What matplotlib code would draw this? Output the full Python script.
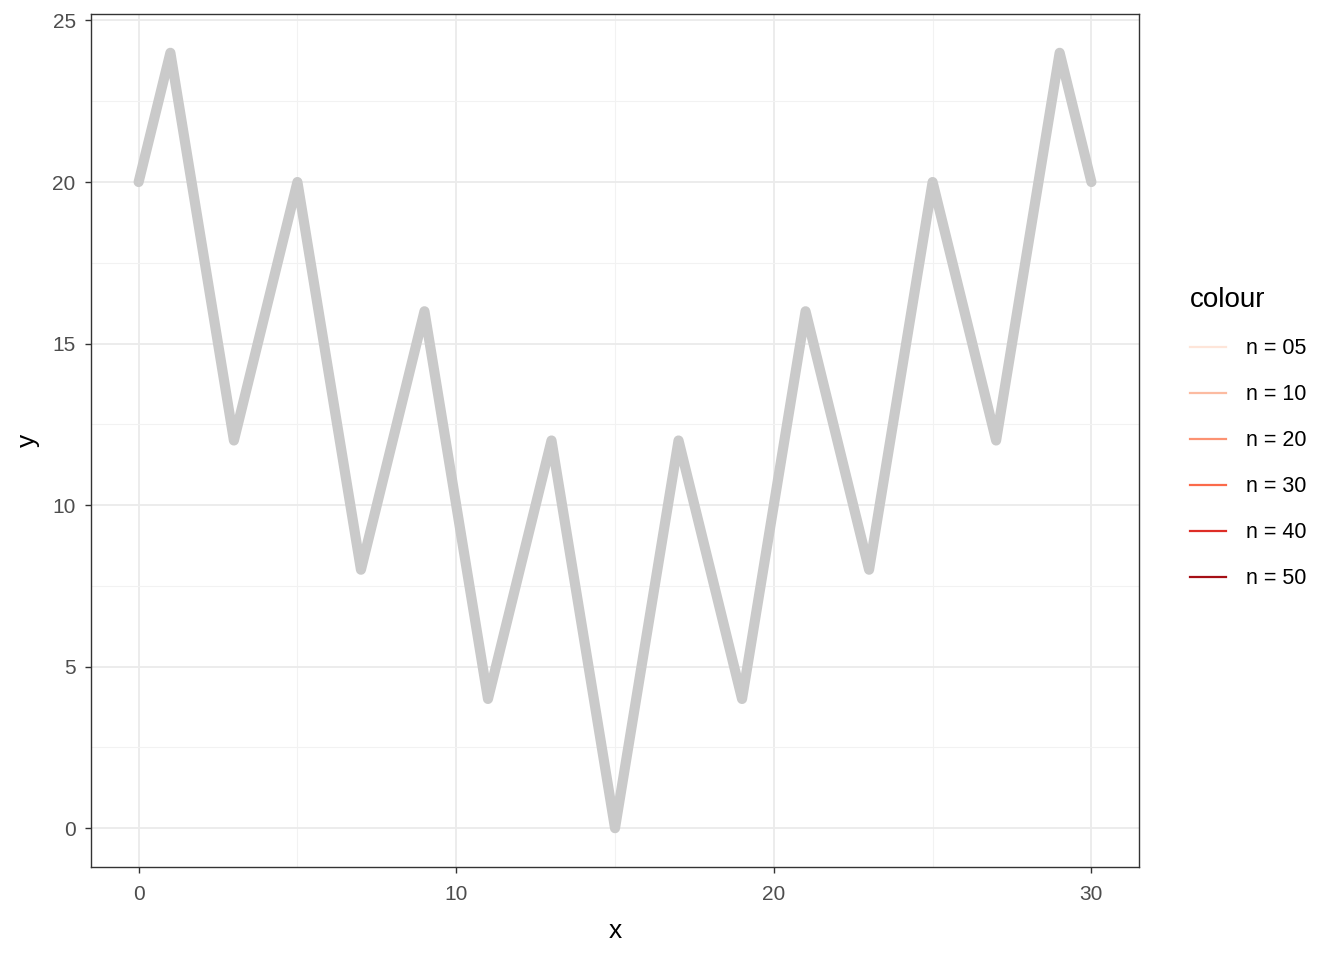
import matplotlib
matplotlib.use("Agg")
import matplotlib.pyplot as plt
from matplotlib.lines import Line2D
from matplotlib.ticker import MultipleLocator

plt.rcParams['font.family'] = ['Liberation Sans', 'DejaVu Sans']

# zigzag path
x = list(range(31))
y = [20, 24, 18, 12, 16, 20, 14, 8, 12, 16, 10, 4, 8, 12, 6, 0,
     6, 12, 8, 4, 10, 16, 12, 8, 14, 20, 16, 12, 18, 24, 20]

# legend entries
labels = ['n = 05', 'n = 10', 'n = 20', 'n = 30', 'n = 40', 'n = 50']
colours = ['#FEE5D9', '#FCBBA1', '#FC9272', '#FB6A4A', '#DE2D26', '#A50F15']

fig = plt.figure(figsize=(13.44, 9.6), dpi=100)
ax = fig.add_axes([0.0677, 0.0969, 0.7798, 0.8885])

ax.plot(x, y, color='#cacaca', lw=7.3, solid_capstyle='round',
        solid_joinstyle='round', zorder=3)

ax.set_xlim(-1.5, 31.5)
ax.set_ylim(-1.2, 25.2)
ax.xaxis.set_major_locator(MultipleLocator(10))
ax.xaxis.set_minor_locator(MultipleLocator(5))
ax.yaxis.set_major_locator(MultipleLocator(5))
ax.yaxis.set_minor_locator(MultipleLocator(2.5))
ax.grid(which='major', color='#ebebeb', lw=1.3)
ax.grid(which='minor', color='#f2f2f2', lw=0.8)
ax.set_axisbelow(True)

ax.tick_params(which='major', length=4, width=1, color='#333333',
               labelsize=15, labelcolor='#4d4d4d', pad=7)
ax.tick_params(axis='x', which='major', pad=9)
ax.tick_params(which='minor', length=0)
for s in ax.spines.values():
    s.set_color('#333333')
    s.set_linewidth(1)

ax.set_xlabel('x', fontsize=19, labelpad=11)
ax.set_ylabel('y', fontsize=19, labelpad=9)

handles = [Line2D([0], [0], color=c, lw=1.6) for c in colours]
leg = fig.legend(handles, labels, title='colour', loc='upper left',
                 bbox_to_anchor=(0.8712, 0.721), frameon=False,
                 fontsize=15.5, title_fontsize=20, handlelength=1.65,
                 handletextpad=0.95, labelspacing=1.16)
leg._legend_box.align = 'left'
leg._legend_box.sep = 18

fig.savefig('out.png', dpi=100)
